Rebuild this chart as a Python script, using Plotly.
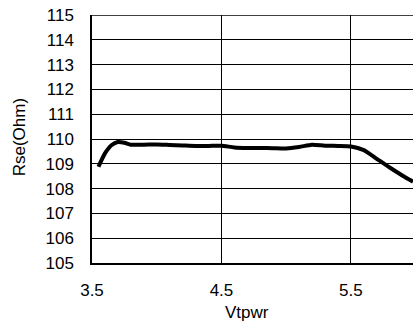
import plotly.graph_objects as go

vtpwr = [3.55, 3.6, 3.65, 3.7, 3.75, 3.8, 3.9, 4.0, 4.1, 4.2, 4.3, 4.4, 4.5, 4.6, 4.7,
         4.8, 4.9, 5.0, 5.1, 5.2, 5.3, 5.4, 5.5, 5.6, 5.7, 5.8, 5.9, 5.98]
rse = [108.88, 109.42, 109.75, 109.88, 109.85, 109.77, 109.77, 109.78, 109.76, 109.74,
       109.72, 109.72, 109.73, 109.66, 109.64, 109.64, 109.63, 109.62, 109.68, 109.77,
       109.73, 109.72, 109.70, 109.55, 109.2, 108.85, 108.52, 108.28]

x_ticks = [3.5, 4.5, 5.5]
y_ticks = list(range(105, 116))

font = "Liberation Sans, Arial, sans-serif"

fig = go.Figure()
fig.add_trace(go.Scatter(x=vtpwr, y=rse, mode="lines",
                         line=dict(color="black", width=4, shape="spline", smoothing=0.6),
                         showlegend=False, hoverinfo="skip"))

fig.update_layout(
    width=413, height=329,
    margin=dict(l=92, r=0, t=15, b=66, autoexpand=False),
    paper_bgcolor="white", plot_bgcolor="white",
    font=dict(family=font, size=17, color="black"),
    xaxis=dict(range=[3.5, 5.98], tickvals=x_ticks, ticktext=[str(v) for v in x_ticks],
               showgrid=True, gridcolor="black", gridwidth=1,
               showline=True, linecolor="black", linewidth=2, mirror=False,
               ticks="", ticklabelstandoff=11, zeroline=False),
    yaxis=dict(range=[105, 115], tickvals=y_ticks, ticktext=[str(v) for v in y_ticks],
               showgrid=True, gridcolor="black", gridwidth=1,
               showline=True, linecolor="black", linewidth=1.5,
               ticks="", ticklabelstandoff=13, zeroline=False),
    shapes=[dict(type="line", xref="paper", yref="y", x0=0, x1=1, y0=115, y1=115,
                 line=dict(color="black", width=1.5))],
    annotations=[
        dict(text="Vtpwr", xref="paper", yref="paper", x=0.483, y=-0.2,
             showarrow=False, xanchor="center", yanchor="middle", font=dict(size=17)),
        dict(text="Rse(Ohm)", xref="paper", yref="paper", x=-0.225, y=0.506,
             showarrow=False, xanchor="center", yanchor="middle", textangle=-90, font=dict(size=17)),
    ],
)

fig.write_html("out.html", config={"displayModeBar": False},
               post_script="document.body.style.margin='0';")
